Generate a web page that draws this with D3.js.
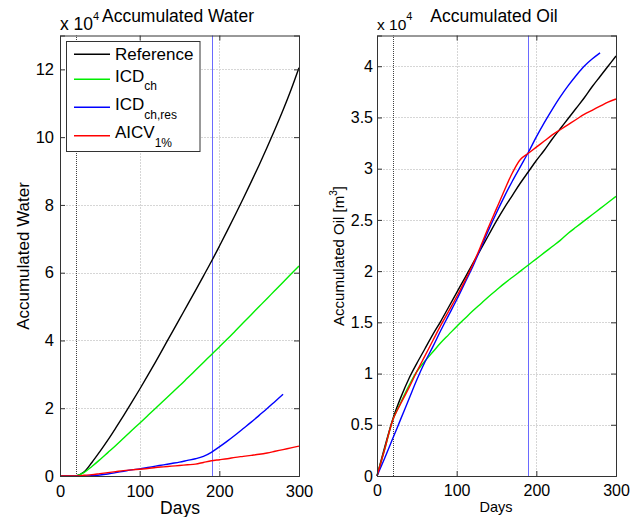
<!DOCTYPE html>
<html>
<head>
<meta charset="utf-8">
<script src="https://cdn.jsdelivr.net/npm/d3@7"></script>
<style>
  html, body { margin: 0; padding: 0; background: #fff; }
  svg { display: block; font-family: "Liberation Sans", Arial, sans-serif; }
</style>
</head>
<body>
<svg id="chart" width="641" height="517"></svg>
<script>
// ---------- data ----------
const days = [0,10,20,30,40,50,60,70,80,90,100,110,120,130,140,150,160,170,180,190,200,210,220,230,240,250,260,270,280,290,300];

// Accumulated water (x 10^4)
const waterReference = [0,0,0,0.12,0.40,0.72,1.06,1.42,1.79,2.17,2.56,2.96,3.37,3.79,4.21,4.63,5.05,5.47,5.90,6.33,6.78,7.24,7.71,8.19,8.68,9.18,9.70,10.24,10.80,11.40,12.05];
const waterICDch     = [0,0,0,0.10,0.28,0.48,0.69,0.90,1.12,1.34,1.56,1.78,2.00,2.22,2.44,2.66,2.89,3.12,3.35,3.58,3.81,4.04,4.28,4.52,4.76,5.00,5.24,5.48,5.72,5.96,6.20];
const waterICDchres  = [0,0,0,0.00,0.01,0.03,0.06,0.10,0.14,0.18,0.21,0.25,0.29,0.33,0.37,0.41,0.46,0.51,0.58,0.70,0.86,1.03,1.21,1.40,1.59,1.79,1.99,2.20,2.41,null,null];
const waterAICV      = [0,0,0,0.02,0.04,0.07,0.10,0.13,0.16,0.18,0.20,0.22,0.25,0.27,0.29,0.31,0.33,0.35,0.40,0.45,0.48,0.51,0.55,0.58,0.61,0.64,0.68,0.73,0.78,0.83,0.88];

// Accumulated oil (x 10^4 m^3)
const oilReference = [0,0.29,0.56,0.77,0.95,1.10,1.24,1.38,1.51,1.65,1.79,1.93,2.07,2.21,2.35,2.49,2.62,2.74,2.86,2.97,3.08,3.18,3.29,3.39,3.49,3.59,3.69,3.80,3.90,4.00,4.10];
const oilICDch     = [0,0.27,0.55,0.72,0.88,1.02,1.12,1.21,1.30,1.38,1.46,1.535,1.61,1.68,1.75,1.815,1.88,1.94,2.00,2.06,2.12,2.18,2.24,2.30,2.37,2.43,2.49,2.55,2.61,2.67,2.73];
const oilICDchres  = [0,0.18,0.37,0.56,0.75,0.94,1.11,1.26,1.42,1.57,1.72,1.88,2.04,2.22,2.40,2.57,2.73,2.88,3.02,3.16,3.31,3.45,3.58,3.70,3.81,3.91,4.00,4.07,4.13,null,null];
const oilAICV      = [0,0.27,0.55,0.71,0.86,1.02,1.17,1.32,1.47,1.61,1.75,1.90,2.06,2.24,2.43,2.61,2.79,2.96,3.09,3.15,3.21,3.27,3.33,3.38,3.43,3.48,3.53,3.57,3.61,3.65,3.68];

const dayTicks   = [0,100,200,300];
const waterTicks = [0,2,4,6,8,10,12];
const oilTicks   = [0,0.5,1,1.5,2,2.5,3,3.5,4];
const markerDays = [20,190];
const markerColors = ["#404040","#6a6aff"];
const markerDash = ["1,1", null];

const seriesNames = ["Reference","ICD","ICD","AICV"];
const seriesSubs  = ["","ch","ch,res","1%"];
const seriesColors = ["#000000","#00ee00","#0000ff","#ff0000"];

// ---------- drawing ----------
const svg = d3.select("#chart");
svg.append("rect").attr("width",641).attr("height",517).attr("fill","#fff");
const snap = v => Math.round(v) + 0.5;

function panel(opts) {
  const x = d3.scaleLinear().domain([0,300]).range([opts.left, opts.right]);
  const y = d3.scaleLinear().domain(opts.yDomain).range([476, 35.5]);
  const g = svg.append("g");

  // grid
  g.selectAll(".gx").data(dayTicks.slice(1,-1)).enter().append("line")
    .attr("x1", d => snap(x(d))).attr("x2", d => snap(x(d))).attr("y1", y.range()[0]).attr("y2", y.range()[1])
    .attr("stroke","#d6d6d6").attr("stroke-width",1).attr("stroke-dasharray","2,1");
  g.selectAll(".gy").data(opts.yTicks.slice(1)).enter().append("line")
    .attr("x1", opts.left).attr("x2", opts.right).attr("y1", d => snap(y(d))).attr("y2", d => snap(y(d)))
    .attr("stroke","#d6d6d6").attr("stroke-width",1).attr("stroke-dasharray","2,1");

  // marker verticals
  markerDays.forEach((m,i) => {
    if (markerDash[i]) {
      g.append("line").attr("x1", snap(x(m))).attr("x2", snap(x(m))).attr("y1", y.range()[0]).attr("y2", y.range()[1])
        .attr("stroke", markerColors[i]).attr("stroke-width",1).attr("stroke-dasharray", markerDash[i]);
    } else {
      g.append("rect").attr("x", 2 * Math.round(x(m) / 2)).attr("y", y.range()[1]).attr("width", 1)
        .attr("height", y.range()[0] - y.range()[1]).attr("fill", markerColors[i]);
    }
  });

  // series
  const line = d3.line()
    .defined(d => d[1] != null)
    .x(d => x(d[0])).y(d => y(d[1]))
    .curve(d3.curveCatmullRom.alpha(0.5));
  opts.series.forEach((s,i) => {
    g.append("path").datum(days.map((d,k) => [d, s[k]]))
      .attr("d", line).attr("fill","none").attr("stroke", seriesColors[i]).attr("stroke-width",1.4);
  });

  // axes (inward ticks, box)
  const axCol = "#333";
  const bottom = d3.axisBottom(x).tickValues(dayTicks).tickSize(-5).tickPadding(9).tickFormat(d3.format("d"));
  const top = d3.axisTop(x).tickValues(dayTicks).tickSize(-5).tickFormat("");
  const leftA = d3.axisLeft(y).tickValues(opts.yTicks).tickSize(-5).tickPadding(opts.tickPad).tickFormat(d => String(d));
  const rightA = d3.axisRight(y).tickValues(opts.yTicks).tickSize(-5).tickFormat("");
  const gb = g.append("g").attr("transform",`translate(0,476)`).call(bottom);
  const gt = g.append("g").attr("transform",`translate(0,35.5)`).call(top);
  const gl = g.append("g").attr("transform",`translate(${opts.left},0)`).call(leftA);
  const gr = g.append("g").attr("transform",`translate(${opts.right},0)`).call(rightA);
  [gb,gt,gl,gr].forEach(a => {
    a.select(".domain").attr("stroke",axCol).attr("stroke-width",1);
    a.selectAll(".tick line").attr("stroke",axCol);
    a.selectAll("text").attr("fill","#000").style("font-family",'"Liberation Sans", Arial, sans-serif')
      .style("font-size", opts.tickFont + "px");
  });

  // title
  svg.append("text").attr("x", opts.titleX).attr("y", 22).attr("text-anchor","middle")
    .style("font-size", opts.titleFont + "px").text(opts.title);

  // exponent
  const ex = svg.append("text").attr("x", opts.left).attr("y", 30).style("font-size", opts.expFont + "px");
  ex.append("tspan").text("x 10");
  ex.append("tspan").attr("dy", -10).style("font-size", "11px").text("4");

  // xlabel
  svg.append("text").attr("x", opts.xlabX).attr("y", opts.xlabY).attr("text-anchor","middle")
    .style("font-size", opts.xlabFont + "px").text("Days");

  // ylabel
  const yl = svg.append("text").attr("transform", `translate(${opts.ylabX},256) rotate(-90)`)
    .attr("text-anchor","middle").style("font-size", opts.ylabFont + "px");
  yl.append("tspan").text(opts.ylab);
  if (opts.ylabSup) {
    yl.append("tspan").attr("dy", -7).style("font-size","10px").text(opts.ylabSup);
    yl.append("tspan").attr("dy", 7).text("]");
  }
  return {x, y};
}

panel({
  left: 60, right: 299, yDomain: [0,13], yTicks: waterTicks, tickPad: 6, tickFont: 16.5,
  series: [waterReference, waterICDch, waterICDchres, waterAICV],
  title: "Accumulated Water", titleX: 178, titleFont: 17.5, expFont: 17.5,
  xlabX: 180, xlabY: 514, xlabFont: 17.5,
  ylab: "Accumulated Water", ylabX: 29, ylabFont: 17
});

panel({
  left: 377, right: 616, yDomain: [0,4.3], yTicks: oilTicks, tickPad: 4, tickFont: 16,
  series: [oilReference, oilICDch, oilICDchres, oilAICV],
  title: "Accumulated Oil", titleX: 494, titleFont: 17.5, expFont: 15.5,
  xlabX: 496, xlabY: 512, xlabFont: 14.5,
  ylab: "Accumulated Oil [m", ylabSup: "3", ylabX: 344, ylabFont: 15
});

// legend (left panel)
const lg = svg.append("g");
lg.append("rect").attr("x",66.5).attr("y",41.5).attr("width",133.5).attr("height",110)
  .attr("fill","#fff").attr("stroke","#333").attr("stroke-width",1);
const lineYs = [54.3, 79.3, 107.3, 135.7];
const baseYs = [60, 81.7, 110, 138.3];
seriesNames.forEach((n,i) => {
  lg.append("line").attr("x1",74).attr("x2",110).attr("y1",lineYs[i]).attr("y2",lineYs[i])
    .attr("stroke", seriesColors[i]).attr("stroke-width",1.4);
  const t = lg.append("text").attr("x",115).attr("y",baseYs[i]).style("font-size","17px");
  t.append("tspan").text(n);
  if (seriesSubs[i]) t.append("tspan").attr("dy",8.5).style("font-size","12px").text(seriesSubs[i]);
});
</script>
</body>
</html>
